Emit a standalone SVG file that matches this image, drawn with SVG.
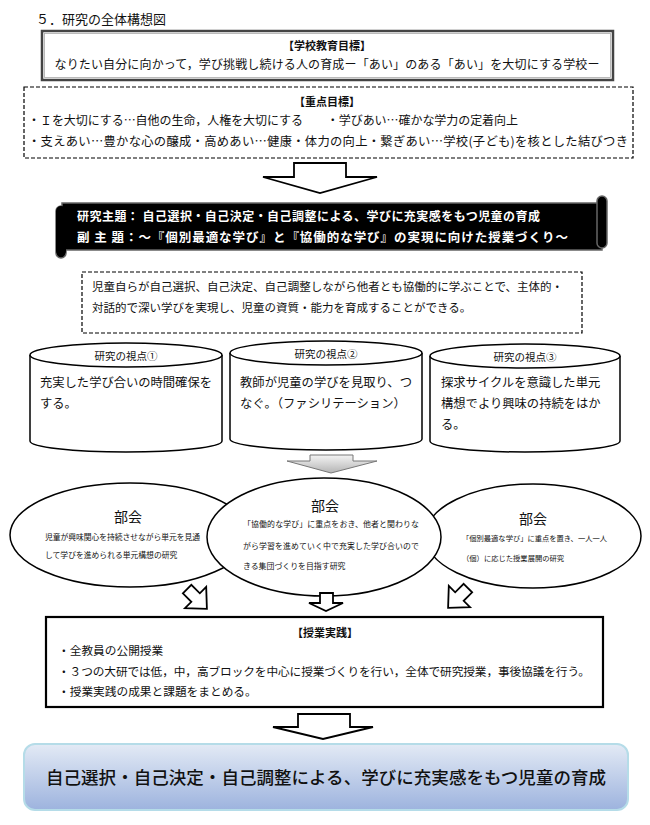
<svg xmlns="http://www.w3.org/2000/svg" width="650" height="825" viewBox="0 0 650 825">
<defs>
<style>
text{font-family:"Noto Sans CJK JP","Liberation Sans",sans-serif;fill:#111}
.c{text-anchor:middle}
.b{font-weight:bold}
.w{fill:#fff;font-weight:bold}
.ln{fill:#fff;stroke:#000;stroke-width:1.5}
.dash{fill:#fff;stroke:#000;stroke-width:1.2;stroke-dasharray:4 2}
</style>
<linearGradient id="gg" x1="0" y1="0" x2="0" y2="1"><stop offset="0" stop-color="#f4f4f4"/><stop offset="1" stop-color="#b4b4b4"/></linearGradient>
<linearGradient id="bg" x1="0" y1="0" x2="0" y2="1"><stop offset="0" stop-color="#e3eaf5"/><stop offset="1" stop-color="#9db3de"/></linearGradient>
</defs>
<rect width="650" height="825" fill="#fff"/>
<text x="36" y="24" font-size="13">５．研究の全体構想図</text>

<g id="school-goal">
<rect x="42" y="31" width="571" height="49" fill="#fff" stroke="#444" stroke-width="2.5"/>
<rect x="44.5" y="33.5" width="566" height="44" fill="none" stroke="#aaa" stroke-width="0.8"/>
<text x="327" y="50" class="c b" font-size="11">【学校教育目標】</text>
<text x="327" y="69" class="c" font-size="12" textLength="545">なりたい自分に向かって，学び挑戦し続ける人の育成ー「あい」のある「あい」を大切にする学校ー</text>
</g>

<g id="priority-goal">
<rect x="24" y="87" width="609" height="71" class="dash"/>
<text x="327" y="106" class="c b" font-size="11">【重点目標】</text>
<text x="28" y="125" font-size="12" textLength="490">・Ｉを大切にする…自他の生命，人権を大切にする　　・学びあい…確かな学力の定着向上</text>
<text x="28" y="146" font-size="12.3" textLength="600">・支えあい…豊かな心の醸成・高めあい…健康・体力の向上・繋ぎあい…学校(子ども)を核とした結びつき</text>
</g>

<g id="theme">
<rect x="56" y="206" width="10" height="52" rx="5" fill="#000" stroke="#666" stroke-width="1.5"/>
<rect x="62" y="203" width="540" height="47" fill="#000" stroke="#666" stroke-width="1.5"/>
<rect x="597" y="196" width="10" height="52" rx="5" fill="#000" stroke="#666" stroke-width="1.5"/>
<rect x="56" y="206" width="10" height="50" rx="5" fill="#000"/>
<text x="77" y="221" class="w" font-size="12" textLength="463">研究主題：  自己選択・自己決定・自己調整による、学びに充実感をもつ児童の育成</text>
<text x="77" y="242" class="w" font-size="12.5" textLength="491">副 主 題：～『個別最適な学び』と『協働的な学び』の実現に向けた授業づくり～</text>
</g>

<g id="hypothesis">
<rect x="82" y="272" width="500" height="61" class="dash"/>
<text x="92" y="291" font-size="11.5" textLength="471">児童自らが自己選択、自己決定、自己調整しながら他者とも協働的に学ぶことで、主体的・</text>
<text x="92" y="312" font-size="11.5">対話的で深い学びを実現し、児童の資質・能力を育成することができる。</text>
</g>

<g id="view1">
<path d="M30 355 V441 A96 11 0 0 0 222 441 V355" class="ln"/>
<ellipse cx="126" cy="355" rx="96" ry="12" class="ln"/>
<text x="126" y="360" class="c" font-size="10.5">研究の視点①</text>
<text x="40" y="387" font-size="12.3" textLength="172">充実した学び合いの時間確保を</text>
<text x="40" y="408" font-size="12.3">する。</text>
</g>
<g id="view2">
<path d="M230 353 V439 A96 11 0 0 0 422 439 V353" class="ln"/>
<ellipse cx="326" cy="353" rx="96" ry="12" class="ln"/>
<text x="326" y="358" class="c" font-size="10.5">研究の視点②</text>
<text x="240" y="387" font-size="12.3" textLength="172">教師が児童の学びを見取り、つ</text>
<text x="240" y="408" font-size="12.3">なぐ。（ファシリテーション）</text>
</g>
<g id="view3">
<path d="M430 356 V441 A95 11 0 0 0 620 441 V356" class="ln"/>
<ellipse cx="525" cy="356" rx="95" ry="12" class="ln"/>
<text x="525" y="361" class="c" font-size="10.5">研究の視点③</text>
<text x="441" y="387" font-size="12.3">探求サイクルを意識した単元</text>
<text x="441" y="408" font-size="12.3">構想でより興味の持続をはか</text>
<text x="441" y="429" font-size="12.3">る。</text>
</g>

<g id="group-left">
<ellipse cx="130" cy="535" rx="120" ry="52" class="ln"/>
<text x="128" y="522" class="c" font-size="14">部会</text>
<text x="45" y="540" font-size="7.8" textLength="155">児童が興味関心を持続させながら単元を見通</text>
<text x="45" y="558" font-size="7.8">して学びを進められる単元構想の研究</text>
</g>
<g id="group-right">
<ellipse cx="533" cy="536" rx="108" ry="52" class="ln"/>
<text x="533" y="524" class="c" font-size="14">部会</text>
<text x="462" y="541" font-size="7.3" textLength="145">「個別最適な学び」に重点を置き、一人一人</text>
<text x="462" y="561" font-size="7.3">（個）に応じた授業展開の研究</text>
</g>
<g id="group-middle">
<ellipse cx="324" cy="537" rx="117" ry="59" class="ln"/>
<text x="325" y="511" class="c" font-size="14">部会</text>
<text x="243" y="527" font-size="7.9" textLength="176">「協働的な学び」に重点をおき、他者と関わりな</text>
<text x="243" y="549" font-size="7.9" textLength="176">がら学習を進めていく中で充実した学び合いので</text>
<text x="243" y="569" font-size="7.9">きる集団づくりを目指す研究</text>
</g>

<g id="practice">
<rect x="46" y="617" width="557" height="90" fill="#fff" stroke="#000" stroke-width="2.2"/>
<text x="325" y="637" class="c b" font-size="11">【授業実践】</text>
<text x="58" y="655" font-size="11.7">・全教員の公開授業</text>
<text x="58" y="676" font-size="11.7" textLength="532">・３つの大研では低，中，高ブロックを中心に授業づくりを行い，全体で研究授業，事後協議を行う。</text>
<text x="58" y="696" font-size="11.7">・授業実践の成果と課題をまとめる。</text>
</g>

<g id="result">
<rect x="24" y="744" width="604" height="66" rx="11" fill="url(#bg)" stroke="#b5dce8" stroke-width="2"/>
<text x="326" y="784" class="c" font-size="17.5" font-weight="500" textLength="560" fill="#1a1a1a">自己選択・自己決定・自己調整による、学びに充実感をもつ児童の育成</text>
</g>

<g id="connectors" stroke="#000" stroke-width="1.8" fill="#fff" stroke-linejoin="miter">
<path d="M294 163 H346 V177 H377 L320 193 L263 177 H294 Z"/>
<path d="M310 455 H353 V461 H377 L331 473 L287 461 H310 Z" fill="url(#gg)" stroke="#777" stroke-width="1"/>
<path d="M-6 -14 H6 V-2 H15 L0 14 L-15 -2 H-6 Z" transform="translate(197 599) rotate(-45)"/>
<path d="M320 593 H333 V603 H343 L326 611 L309 603 H320 Z"/>
<path d="M-6 -14 H6 V-2 H15 L0 14 L-15 -2 H-6 Z" transform="translate(458 598) rotate(45)"/>
<path d="M298 714 H350 V727 H373 L323 739 L273 727 H298 Z"/>
</g>
</svg>
